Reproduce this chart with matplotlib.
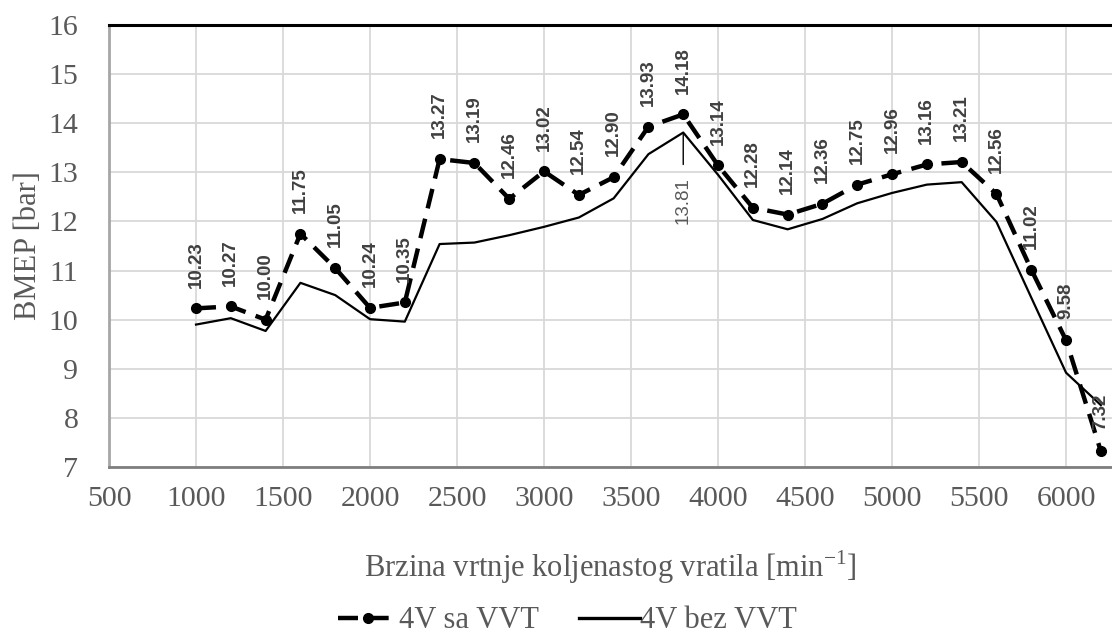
import matplotlib

matplotlib.use("Agg")
import matplotlib.pyplot as plt

# engine speed [min^-1]
rpm = [1000, 1200, 1400, 1600, 1800, 2000, 2200, 2400, 2600, 2800, 3000, 3200, 3400,
       3600, 3800, 4000, 4200, 4400, 4600, 4800, 5000, 5200, 5400, 5600, 5800, 6000, 6200]

# BMEP [bar]
bmep_vvt = [10.23, 10.27, 10.00, 11.75, 11.05, 10.24, 10.35, 13.27, 13.19, 12.46, 13.02,
            12.54, 12.90, 13.93, 14.18, 13.14, 12.28, 12.14, 12.36, 12.75, 12.96, 13.16,
            13.21, 12.56, 11.02, 9.58, 7.32]
bmep_no_vvt = [9.90, 10.03, 9.77, 10.75, 10.50, 10.01, 9.96, 11.54, 11.57, 11.72, 11.89,
               12.08, 12.47, 13.37, 13.81, 12.95, 12.03, 11.84, 12.05, 12.37, 12.58, 12.75,
               12.80, 11.99, 10.45, 8.92, 8.26]

x_ticks = list(range(500, 6001, 500))
y_ticks = list(range(7, 17))

SERIF = "Liberation Serif"
SANS = "Liberation Sans"
TXT = "#595959"

fig = plt.figure(figsize=(11.12, 6.38), dpi=100)
ax = fig.add_axes([109 / 1112, 1 - 467 / 638, 1 - 109 / 1112, (467 - 25) / 638])

ax.set_xlim(500, 6264)
ax.set_ylim(7, 16)
ax.set_xticks(x_ticks)
ax.set_yticks(y_ticks)
ax.grid(True, color="#d9d9d9", linewidth=1.3)
ax.set_axisbelow(True)
ax.tick_params(length=0, labelsize=21.5, labelcolor=TXT)
ax.tick_params(axis="x", pad=14)
ax.tick_params(axis="y", pad=22)
for lab in ax.get_xticklabels() + ax.get_yticklabels():
    lab.set_fontfamily(SERIF)

ax.spines["right"].set_visible(False)
ax.spines["top"].set_color("black")
ax.spines["top"].set_linewidth(2.2)
ax.spines["left"].set_color("#a6a6a6")
ax.spines["left"].set_linewidth(2.0)
ax.spines["bottom"].set_color("#7f7f7f")
ax.spines["bottom"].set_linewidth(2.0)

ax.plot(rpm, bmep_no_vvt, color="black", lw=1.6, label="4V bez VVT", zorder=3)
ax.plot(rpm, bmep_vvt, color="black", lw=3.2, linestyle=(0, (4.5, 2.4)),
        marker="o", markersize=7, label="4V sa VVT", zorder=4)

for x, v in zip(rpm, bmep_vvt):
    ax.annotate(f"{v:.2f}", xy=(x, v), xytext=(0, 15), textcoords="offset points",
                rotation=90, ha="center", va="bottom", fontsize=13.5, fontweight="bold",
                family=SANS, color="#404040", zorder=5)

i_peak = rpm.index(3800)
ax.annotate(f"{bmep_no_vvt[i_peak]:.2f}", xy=(rpm[i_peak], bmep_no_vvt[i_peak]),
            xytext=(0, -32), textcoords="offset points", rotation=90, ha="center",
            va="top", fontsize=13.5, family=SANS, color="#595959",
            arrowprops=dict(arrowstyle="-", color="black", lw=1.0, shrinkA=7, shrinkB=0))

ax.set_ylabel("BMEP [bar]", fontsize=22, family=SERIF, color=TXT, labelpad=4)
ax.set_xlabel("Brzina vrtnje koljenastog vratila [min$^{\\mathregular{-1}}$]",
              fontsize=22, family=SERIF, color=TXT, labelpad=26)

handles, labels = ax.get_legend_handles_labels()
leg = fig.legend(handles[::-1], labels[::-1], loc="center", bbox_to_anchor=(0.51, 1 - 621 / 638),
                 ncol=2, frameon=False, handlelength=2.0, handletextpad=0.0,
                 columnspacing=1.3, numpoints=1, prop={"family": SERIF, "size": 22})
for t in leg.get_texts():
    t.set_color(TXT)
leg.get_lines()[1].set_linewidth(2.4)

fig.savefig("out.png", dpi=100)
